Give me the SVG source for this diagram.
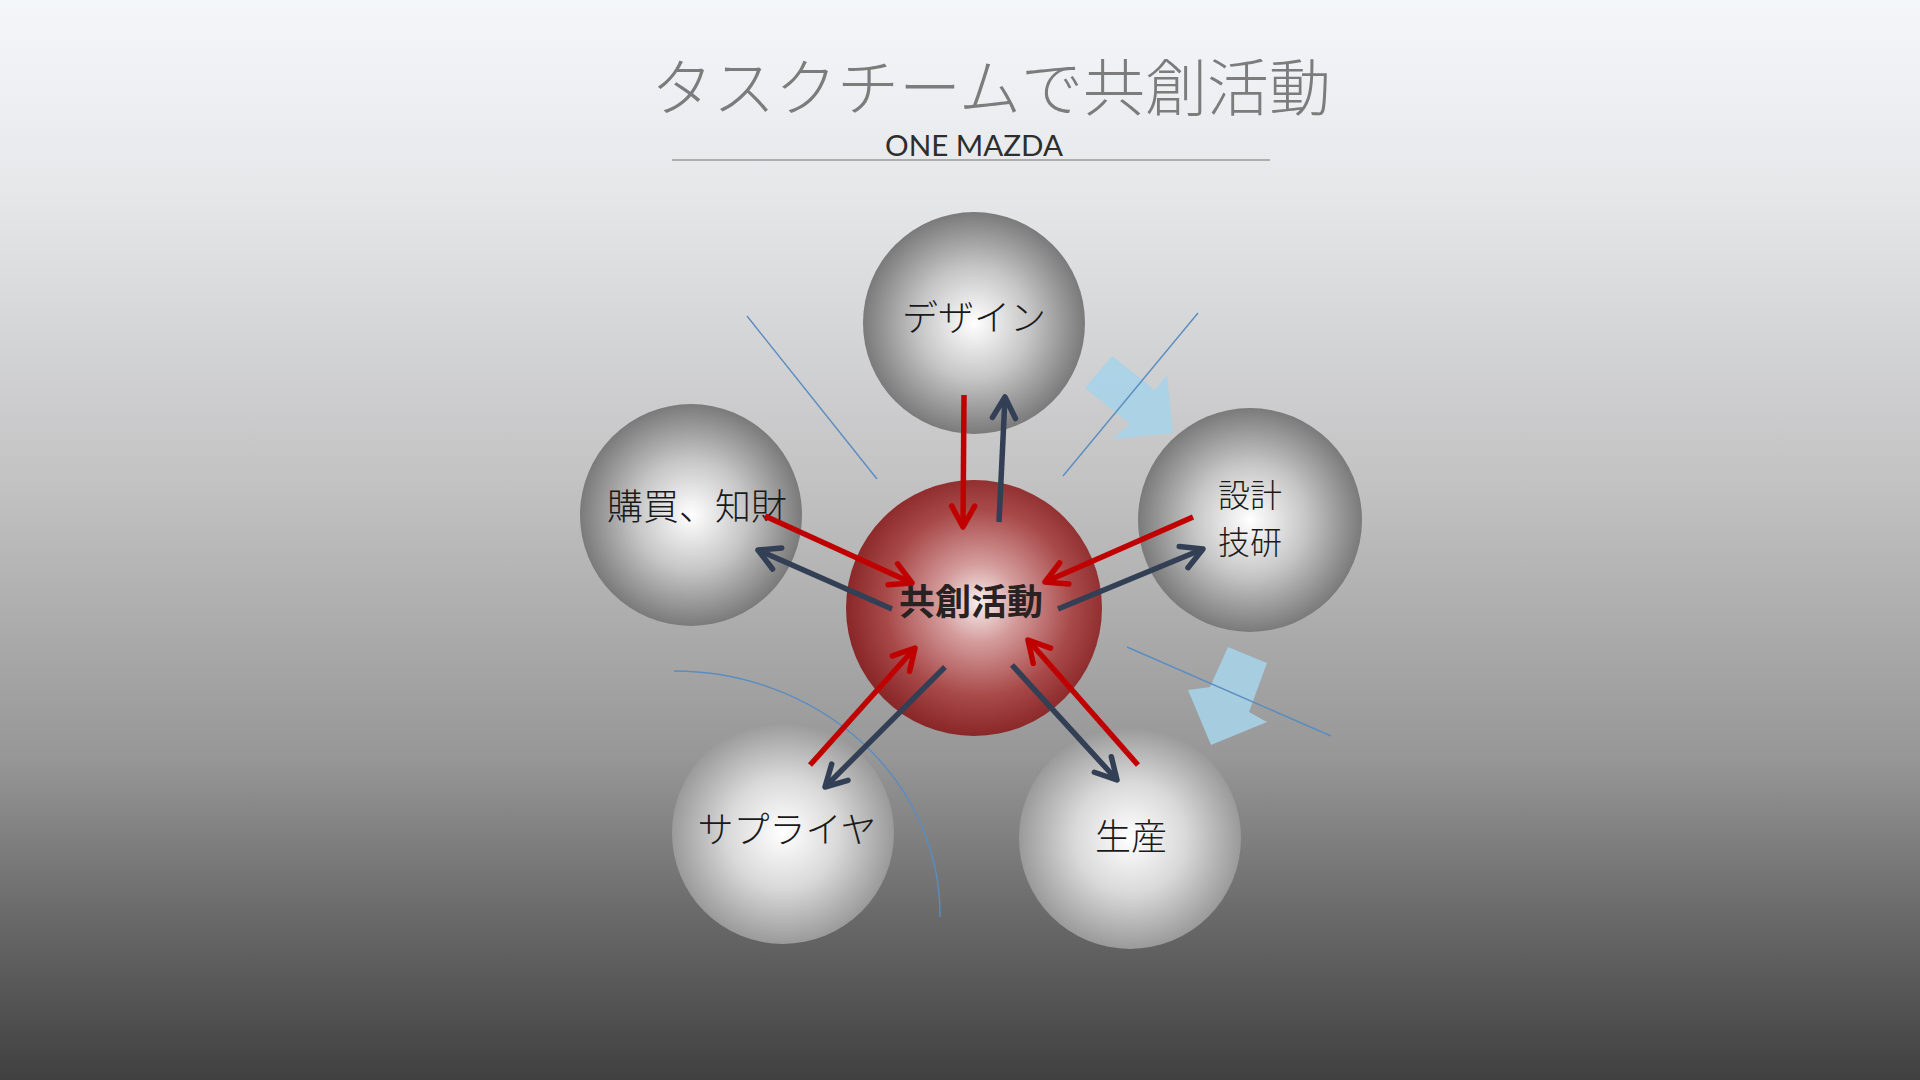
<svg xmlns="http://www.w3.org/2000/svg" width="1920" height="1080" viewBox="0 0 1920 1080">
  <defs>
    <linearGradient id="bg" x1="0" y1="0" x2="0" y2="1">
      <stop offset="0" stop-color="#f4f7fa"/>
      <stop offset="0.18" stop-color="#e6e7e9"/>
      <stop offset="0.45" stop-color="#c2c2c3"/>
      <stop offset="0.7" stop-color="#979797"/>
      <stop offset="0.85" stop-color="#696969"/>
      <stop offset="1" stop-color="#404040"/>
    </linearGradient>
    <radialGradient id="gDark" cx="0.5" cy="0.5" r="0.5">
      <stop offset="0" stop-color="#ffffff"/>
      <stop offset="0.5" stop-color="#c6c6c6"/>
      <stop offset="1" stop-color="#7a7a7a"/>
    </radialGradient>
    <radialGradient id="gLight" cx="0.5" cy="0.5" r="0.5">
      <stop offset="0" stop-color="#ffffff"/>
      <stop offset="0.5" stop-color="#d9d9d9"/>
      <stop offset="1" stop-color="#9a9a9a"/>
    </radialGradient>
    <radialGradient id="gRed" cx="0.52" cy="0.48" r="0.52">
      <stop offset="0" stop-color="#f6eeee"/>
      <stop offset="0.3" stop-color="#d49b9b"/>
      <stop offset="0.7" stop-color="#a94a4a"/>
      <stop offset="1" stop-color="#8a2728"/>
    </radialGradient>
    <marker id="headRed" viewBox="-30 -20 40 40" refX="0" refY="0" markerWidth="40" markerHeight="40" markerUnits="userSpaceOnUse" orient="auto">
      <path d="M-21,-11.5 L0,0 L-21,11.5" fill="none" stroke="#c00000" stroke-width="5.5" stroke-linecap="round" stroke-linejoin="round"/>
    </marker>
    <marker id="headNavy" viewBox="-30 -20 40 40" refX="0" refY="0" markerWidth="40" markerHeight="40" markerUnits="userSpaceOnUse" orient="auto">
      <path d="M-21,-11.5 L0,0 L-21,11.5" fill="none" stroke="#333f55" stroke-width="5.5" stroke-linecap="round" stroke-linejoin="round"/>
    </marker>
    <style>
      .label { font-family: "Noto Sans CJK JP", "Noto Sans", sans-serif; font-size: 36px; font-weight: 300; fill: #1a1a1a; text-anchor: middle; }
      .small { font-size: 32px; }
      .center { font-weight: bold; fill: #2a2222; }
      .red { stroke: #c00000; stroke-width: 5.5; fill: none; marker-end: url(#headRed); }
      .navy { stroke: #333f55; stroke-width: 5.5; fill: none; marker-end: url(#headNavy); }
      .thin { stroke: #5a8dc0; stroke-width: 1.4; fill: none; }
      .block { fill: #a6d3e8; opacity: 0.88; }
    </style>
  </defs>

  <rect x="0" y="0" width="1920" height="1080" fill="url(#bg)"/>

  <g id="title">
    <text x="991" y="111" font-family="Noto Sans CJK JP, Noto Sans, sans-serif" font-size="62" font-weight="300" fill="#7c7c7c" text-anchor="middle">タスクチームで共創活動</text>
    <text x="974" y="156" font-family="Lato, Liberation Sans, sans-serif" font-size="28" fill="#2e2e2e" text-anchor="middle" textLength="178" lengthAdjust="spacingAndGlyphs">ONE MAZDA</text>
    <line x1="672" y1="160" x2="1270" y2="160" stroke="#9a9a9a" stroke-width="1.5"/>
  </g>

  <g id="node-design">
    <circle cx="974" cy="323" r="111" fill="url(#gDark)"/>
    <text class="label" x="974" y="331">デザイン</text>
  </g>
  <g id="node-purchase">
    <circle cx="691" cy="515" r="111" fill="url(#gDark)"/>
    <text class="label" x="697" y="520">購買、知財</text>
  </g>
  <g id="node-engineering">
    <circle cx="1250" cy="520" r="112" fill="url(#gDark)"/>
    <text class="label small" x="1250" y="507">設計</text>
    <text class="label small" x="1250" y="554">技研</text>
  </g>
  <g id="node-supplier">
    <circle cx="783" cy="833" r="111" fill="url(#gLight)"/>
    <text class="label" x="787" y="843">サプライヤ</text>
  </g>
  <g id="node-production">
    <circle cx="1130" cy="838" r="111" fill="url(#gLight)"/>
    <text class="label" x="1131" y="850">生産</text>
  </g>
  <g id="node-center">
    <circle cx="974" cy="608" r="128" fill="url(#gRed)"/>
    <text class="label center" x="971" y="615">共創活動</text>
  </g>

  <g id="decorations">
    <polygon class="block" points="1112,356 1155,390 1167,375 1173,433 1113,439 1130,424 1085,388"/>
    <polygon class="block" points="1228,647 1267,663 1249,712 1267,722 1211,745 1188,690 1210,687"/>
    <line class="thin" x1="747" y1="316" x2="877" y2="479"/>
    <line class="thin" x1="1198" y1="313" x2="1063" y2="476"/>
    <line class="thin" x1="1127" y1="647" x2="1331" y2="736"/>
    <path class="thin" d="M674,671 A266,244 0 0 1 940,917"/>
  </g>

  <g id="connectors">
    <line class="red" x1="964" y1="395" x2="963" y2="527"/>
    <line class="red" x1="765" y1="516" x2="912" y2="583"/>
    <line class="red" x1="1193" y1="517" x2="1045" y2="582"/>
    <line class="red" x1="810" y1="765" x2="915" y2="648"/>
    <line class="red" x1="1138" y1="765" x2="1028" y2="640"/>
    <line class="navy" x1="999" y1="522" x2="1005" y2="397"/>
    <line class="navy" x1="892" y1="609" x2="758" y2="550"/>
    <line class="navy" x1="1058" y1="609" x2="1203" y2="549"/>
    <line class="navy" x1="945" y1="667" x2="825" y2="787"/>
    <line class="navy" x1="1012" y1="665" x2="1117" y2="780"/>
  </g>
</svg>
